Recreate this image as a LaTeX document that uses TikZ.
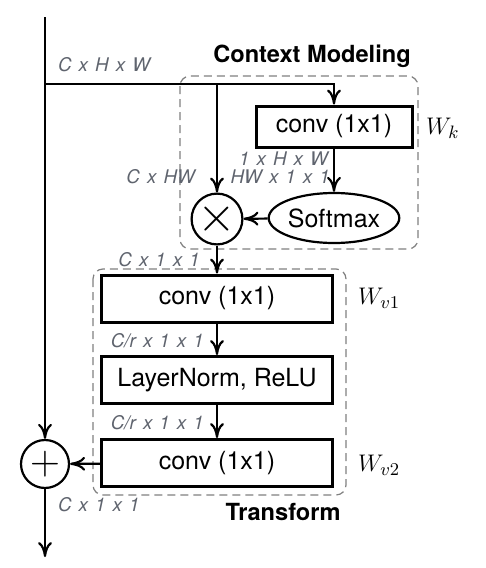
\documentclass[tikz,border=0pt]{standalone}
\usepackage{fontspec}
\setsansfont{TeX Gyre Heros}
\newfontfamily\dimfont[WordSpace=1.35]{TeX Gyre Heros}
\usepackage{tikz}
\usetikzlibrary{arrows.meta, shapes.geometric, positioning}
\definecolor{dimgray}{RGB}{95,100,110}

\begin{document}
\begin{tikzpicture}[x=0.5pt, y=-0.5pt, line width=1.1pt, >={To[length=7.5pt,width=7pt]},
    block/.style={draw, line width=1.5pt, minimum width=115.5pt, minimum height=23.5pt, inner sep=0pt,
        font=\sffamily\fontsize{12.5}{15}\selectfont},
    op/.style={draw, circle, minimum size=24pt, inner sep=0pt},
    dim/.style={text=dimgray, font=\dimfont\itshape\fontsize{9.4}{11}\selectfont, inner sep=0pt, anchor=east},
    title/.style={font=\sffamily\bfseries\fontsize{11.8}{14}\selectfont, inner sep=0pt},
    weight/.style={font=\fontsize{13}{15}\selectfont, inner sep=0pt, anchor=west},
    group/.style={draw=gray, line width=0.6pt, dash pattern=on 4pt off 2.5pt, rounded corners=5pt}]
    \useasboundingbox (0,0) rectangle (486,568);

    % Groups
    \draw[group] (180,76) rectangle (418,249);
    \draw[group] (93,269) rectangle (346,495);
    \node[title] (ctxtitle) at (312,56) {Context Modeling};
    \node[title] (trftitle) at (283,512) {Transform};

    % Nodes
    \coordinate (top) at (45,17);
    \coordinate (split) at (45,84);
    \coordinate (out) at (45,557);
    \node[block, minimum width=78pt, minimum height=20.5pt] (convk) at (334,126.5) {conv (1x1)};
    \node[draw, ellipse, minimum width=59pt, minimum height=25pt, inner sep=0pt,
        font=\sffamily\fontsize{12.5}{15}\selectfont] (softmax) at (334,218) {Softmax};
    \node[op] (times) at (217,219) {\fontsize{26}{26}\selectfont$\times$};
    \node[block] (conv1) at (217,298.5) {conv (1x1)};
    \node[block] (norm) at (217,380) {LayerNorm, ReLU};
    \node[block] (conv2) at (217,463) {conv (1x1)};
    \node[op] (plus) at (45,464) {\fontsize{20}{20}\selectfont$+$};

    % Weights
    \node[weight] (wk) at (425,128) {$W_k$};
    \node[weight] (wv1) at (357,298) {$W_{v1}$};
    \node[weight] (wv2) at (357,465) {$W_{v2}$};

    % Connections
    \draw[->] (top) -- (plus);
    \draw[->] (split) -| (convk);
    \draw[->] (split -| times) -- (times);
    \draw[->] (convk) -- (softmax);
    \draw[->] (softmax) -- (times);
    \draw[->] (times) -- (conv1);
    \draw[->] (conv1) -- (norm);
    \draw[->] (norm) -- (conv2);
    \draw[->] (conv2) -- (plus);
    \draw[->] (plus) -- (out);

    % Shapes
    \node[dim, anchor=west] (d1) at (57,65) {C x H x W};
    \node[dim] (d2) at (329,159) {1 x H x W};
    \node[dim] (d3) at (331,177) {HW x 1 x 1};
    \node[dim] (d4) at (196,177) {C x HW};
    \node[dim] (d5) at (201,260) {C x 1 x 1};
    \node[dim] (d6) at (205,341) {C/r x 1 x 1};
    \node[dim] (d7) at (205,423) {C/r x 1 x 1};
    \node[dim, anchor=west] (d8) at (57,505) {C x 1 x 1};
\end{tikzpicture}
\end{document}
